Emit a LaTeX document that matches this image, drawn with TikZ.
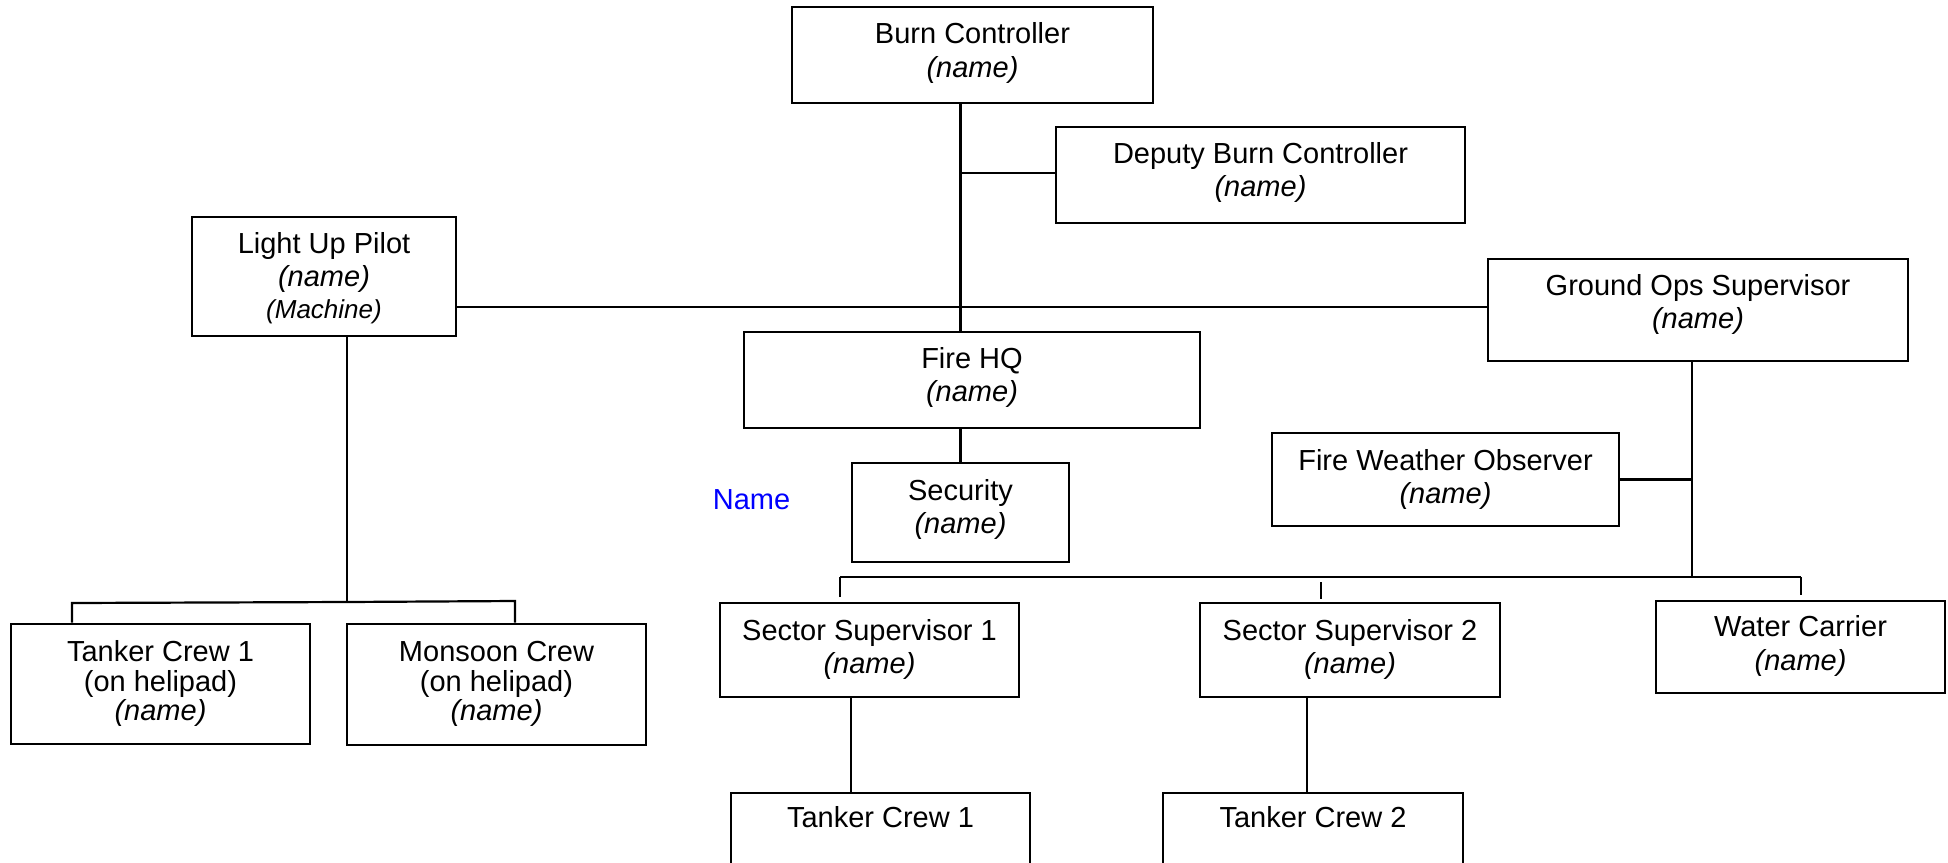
\documentclass[tikz,border=0pt]{standalone}
\usepackage{fontspec}
\setmainfont{Liberation Sans}
\usetikzlibrary{fit}
\newcommand\stk[1]{\vtop{\halign{\hfil##\hfil\cr#1\crcr}}}
\begin{document}
\begin{tikzpicture}[x=0.5pt,y=-0.5pt,
  box/.style={draw, line width=1.3pt, inner sep=0pt},
  txt/.style={anchor=base, inner sep=0pt, yshift=-#1pt,
    font=\fontsize{14.5}{16.5}\selectfont},
  txt/.default=19,
  tight/.style={font=\fontsize{14.5}{14.8}\selectfont},
  conn/.style={line width=1.1pt},
  lbl/.style={font=\fontsize{14.5}{16.5}\selectfont}]
\useasboundingbox (0,0) rectangle (1948,862);
\clip (0,0) rectangle (1948,862);
% boxes
\node[box, fit={(792,7)(1153,103)},
  label={[txt, font=\fontsize{14.5}{17}\selectfont]north:\stk{Burn Controller\cr\textit{(name)}}}] (bc) {};
\node[box, fit={(1056,127)(1465,223)},
  label={[txt, font=\fontsize{14.5}{16.2}\selectfont]north:\stk{Deputy Burn Controller\cr\textit{(name)}}}] (dbc) {};
\node[box, fit={(192,217)(456,336)},
  label={[txt, font=\fontsize{14.5}{16.3}\selectfont]north:\stk{Light Up Pilot\cr\textit{(name)}\cr{\fontsize{13}{15}\selectfont\textit{(Machine)}}\cr}}] (lup) {};
\node[box, fit={(1488,259)(1908,361)},
  label={[txt]north:\stk{Ground Ops Supervisor\cr\textit{(name)}}}] (gos) {};
\node[box, fit={(744,332)(1200,428)},
  label={[txt]north:\stk{Fire HQ\cr\textit{(name)}}}] (fhq) {};
\node[box, fit={(852,463)(1069,562)},
  label={[txt=19.5]north:\stk{Security\cr\textit{(name)}}}] (sec) {};
\node[box, fit={(1272,433)(1619,526)},
  label={[txt=19.5]north:\stk{Fire Weather Observer\cr\textit{(name)}}}] (fwo) {};
\node[box, fit={(11,624)(310,744)},
  label={[txt=19.5, tight]north:\stk{Tanker Crew 1\cr(on helipad)\cr\textit{(name)}}}] (tc1h) {};
\node[box, fit={(347,624)(646,745)},
  label={[txt=19.5, tight]north:\stk{Monsoon Crew\cr(on helipad)\cr\textit{(name)}}}] (mon) {};
\node[box, fit={(720,603)(1019,697)},
  label={[txt=19.5]north:\stk{Sector Supervisor 1\cr\textit{(name)}}}] (ss1) {};
\node[box, fit={(1200,603)(1500,697)},
  label={[txt=19.5]north:\stk{Sector Supervisor 2\cr\textit{(name)}}}] (ss2) {};
\node[box, fit={(1656,601)(1945,693)},
  label={[txt=18.5, font=\fontsize{14.5}{17}\selectfont]north:\stk{Water Carrier\cr\textit{(name)}}}] (wc) {};
\node[box, fit={(731,793)(1030,920)},
  label={[txt=18]north:Tanker Crew 1}] (tc1) {};
\node[box, fit={(1163,793)(1463,920)},
  label={[txt=18]north:Tanker Crew 2}] (tc2) {};
\node[lbl, text=blue, anchor=base] (nm) at (751.5,509) {Name};
% connectors
\draw[conn] (bc.south -| sec.north) -- (fhq.north -| sec.north);
\draw[conn] (fhq.south -| sec.north) -- (sec.north);
\coordinate (dj) at (960.5,173);
\draw[conn] (dj) -- (dbc.west |- dj);
\coordinate (hl) at (0,307);
\draw[conn] (lup.east |- hl) -- (gos.west |- hl);
\coordinate (gv) at (1692,577);
\draw[conn] (gos.south -| gv) -- (gv);
\draw[conn] (fwo.east) -- (fwo.east -| gv);
\coordinate (b1) at (840,577);
\coordinate (b3) at (1801,577);
\draw[conn] (b1) -- (b3);
\coordinate (t1) at (840,597);
\draw[conn] (b1) -- (t1);
\coordinate (t2a) at (1321,582);
\coordinate (t2b) at (1321,599);
\draw[conn] (t2a) -- (t2b);
\coordinate (t3) at (1801,595);
\draw[conn] (b3) -- (t3);
\coordinate (v1) at (851,0);
\draw[conn] (ss1.south -| v1) -- (tc1.north -| v1);
\coordinate (v2) at (1307,0);
\draw[conn] (ss2.south -| v2) -- (tc2.north -| v2);
\coordinate (lv) at (347,602);
\draw[conn] (lup.south -| lv) -- (lv);
\coordinate (k1) at (72,603);
\coordinate (k2) at (515,601);
\draw[conn] (tc1h.north -| k1) -- (k1) -- (lv) -- (k2) -- (mon.north -| k2);
\end{tikzpicture}
\end{document}
